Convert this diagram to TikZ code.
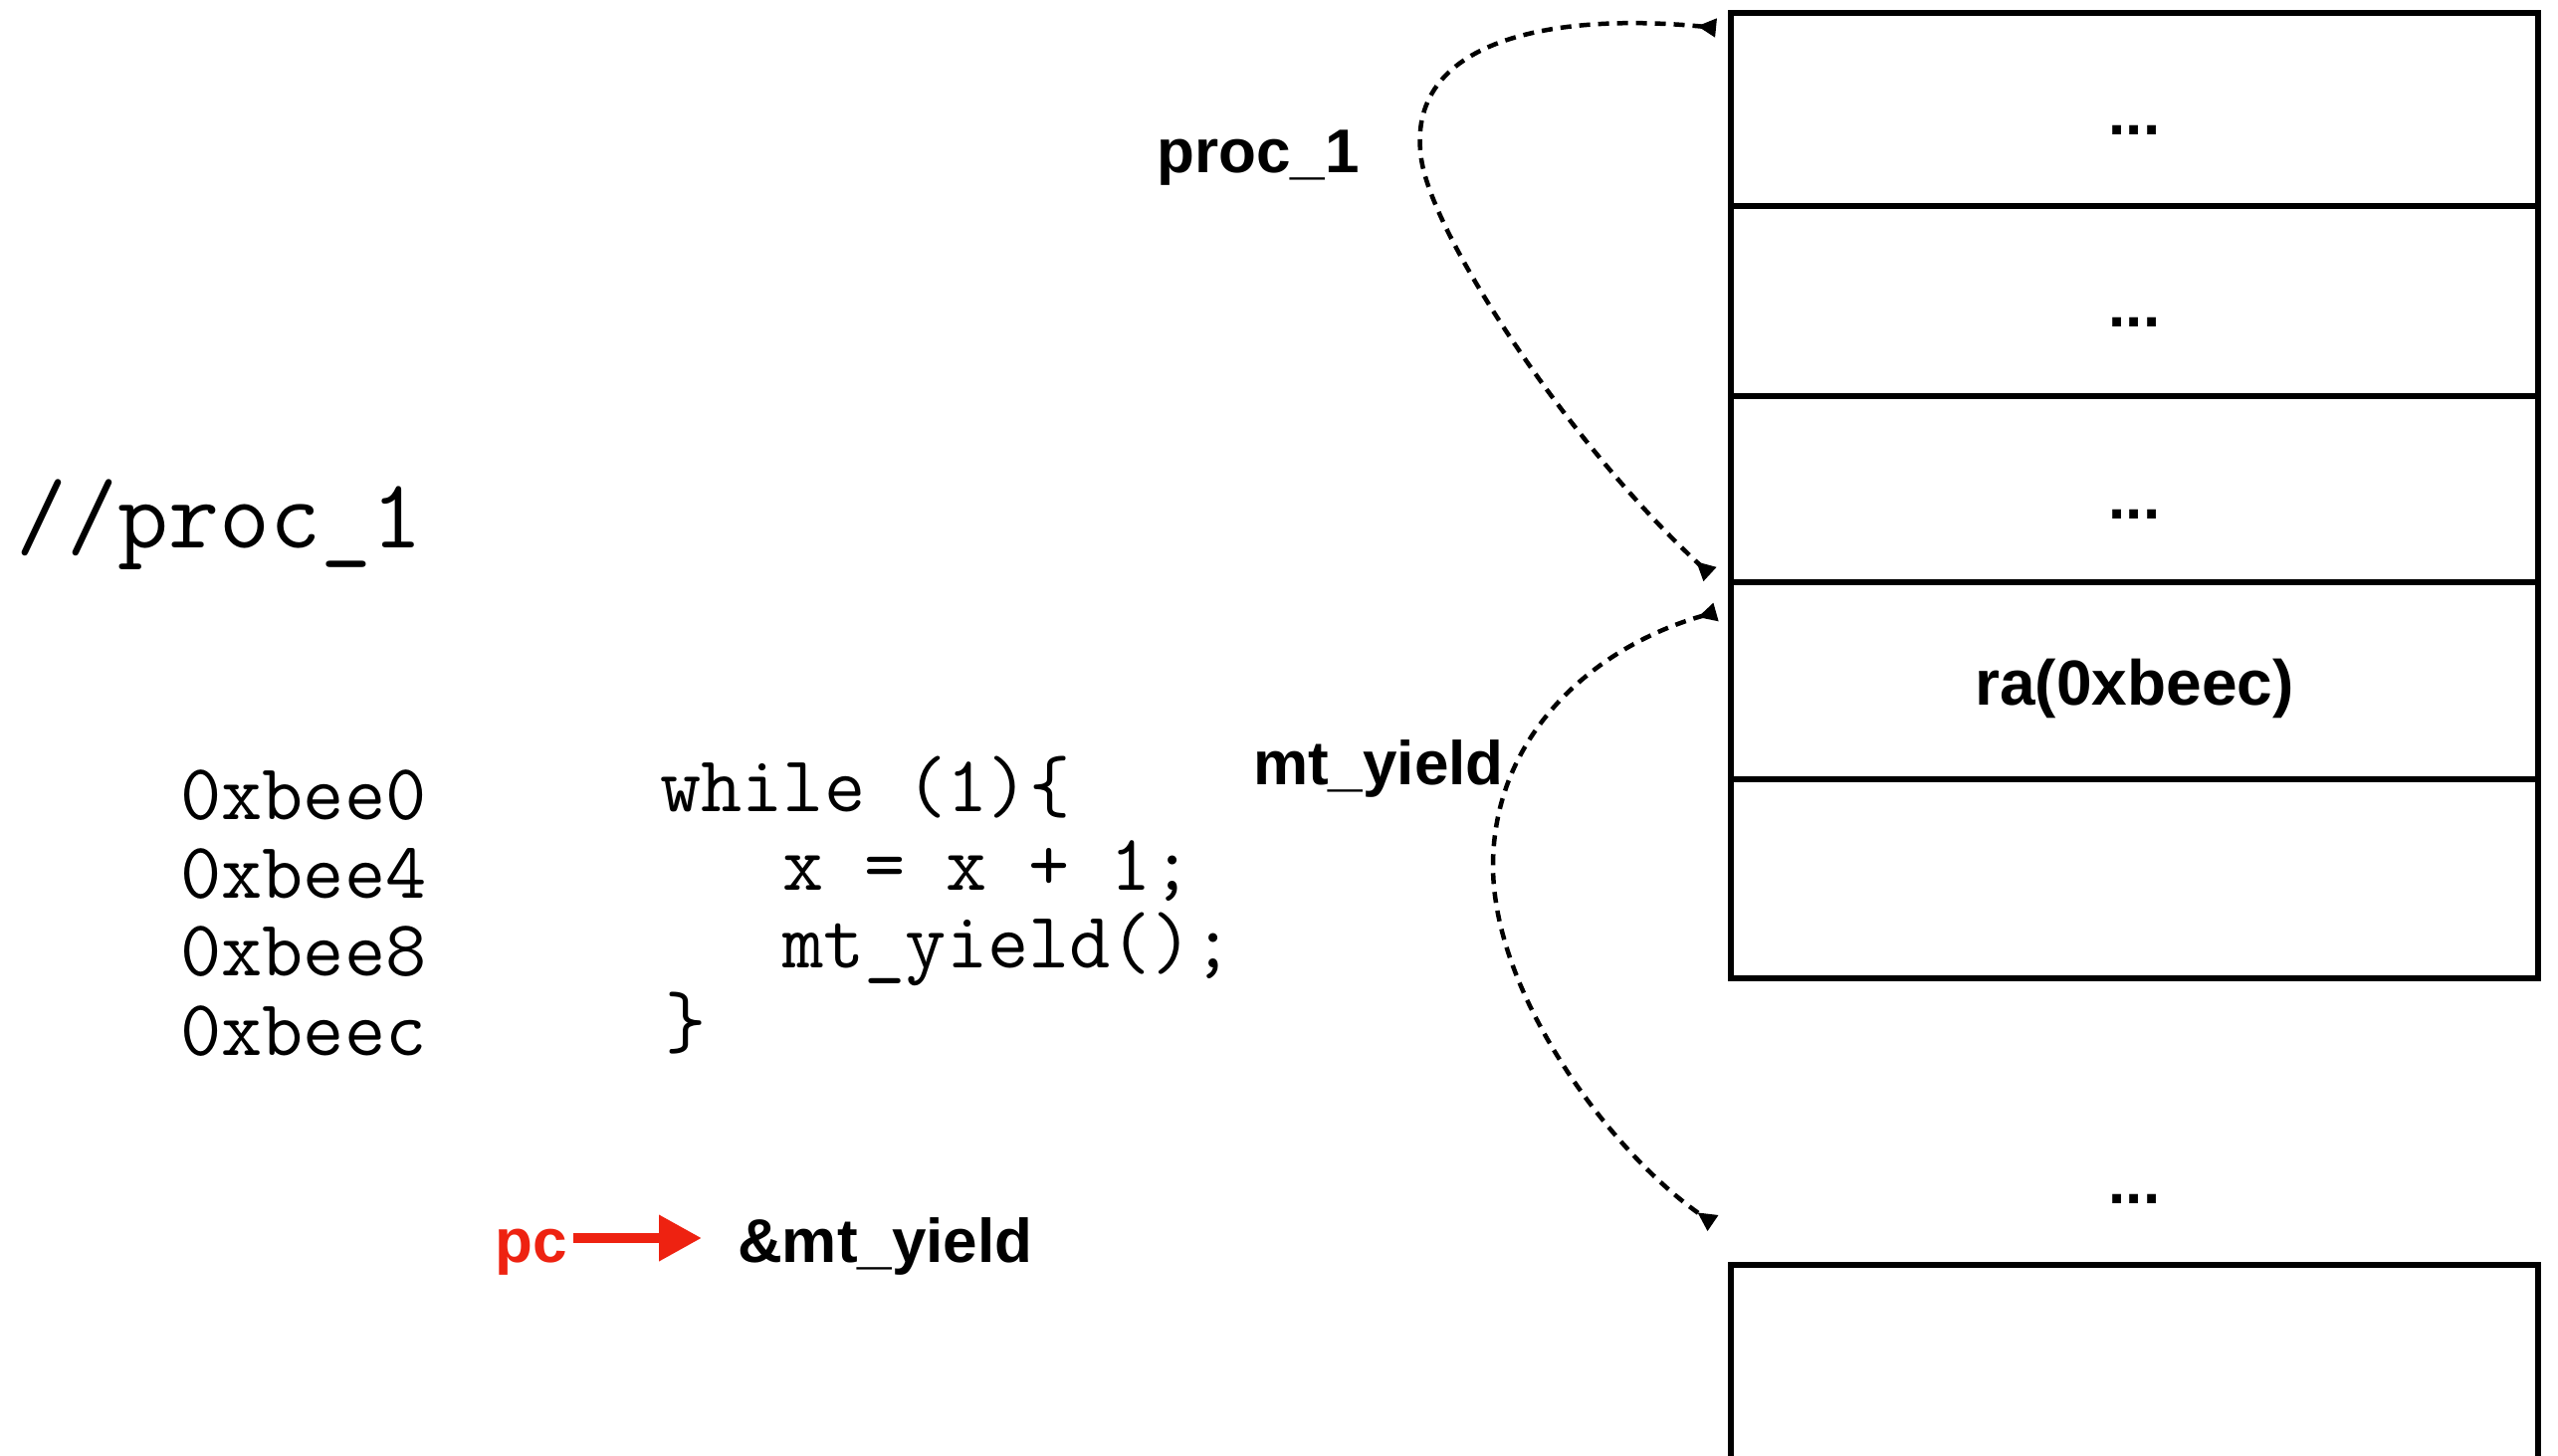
\documentclass[tikz,border=0pt]{standalone}
\usepackage{fontspec}
\newfontfamily\labfont{Liberation Sans}
\usetikzlibrary{arrows.meta,calc}
\definecolor{pcred}{RGB}{238,34,17}
\begin{document}
\begin{tikzpicture}[x=1pt,y=-1pt,
  cell/.style={draw, line width=5.5pt, minimum width=811pt, inner sep=0pt, outer sep=0pt},
  lab/.style={font=\labfont\bfseries\fontsize{62}{70}\selectfont, inner sep=0pt},
  code/.style={font=\ttfamily\fontsize{80}{86}\selectfont, inner sep=0pt, anchor=base west},
  link/.style={line width=4.5pt, dash pattern=on 11pt off 8pt,
    arrows={Triangle[reversed,length=19pt,width=18pt]-Triangle[reversed,length=19pt,width=18pt]}}]
\useasboundingbox[fill=white] (0,0) rectangle (2570,1463);

% stack cells
\node[cell, minimum height=194pt] (c1) at (2144.5,110) {};
\node[cell, minimum height=191pt] (c2) at (2144.5,302.5) {};
\node[cell, minimum height=187pt] (c3) at (2144.5,491.5) {};
\node[cell, minimum height=198pt] (c4) at (2144.5,684) {};
\node[cell, minimum height=200pt] (c5) at (2144.5,883) {};
\node[cell, minimum height=429pt] (c6) at (2144.5,1485.5) {};

% cell texts
\node[lab, anchor=base] (d1) at (2144.5,136) {...};
\node[lab, anchor=base] (d2) at (2144.5,329) {...};
\node[lab, anchor=base] (d3) at (2144.5,521) {...};
\node[lab, anchor=base, font=\labfont\bfseries\fontsize{64}{70}\selectfont] (ra) at (2144.5,708) {ra(0xbeec)};
\node[lab, anchor=base] (d4) at (2144.5,1209) {...};

% code
\node[code, font=\ttfamily\fontsize{99}{105}\selectfont] (cmt) at (16,550) {//proc\_1};
\node[code] (ad0) at (181,823) {0xbee0};
\node[code] (ad4) at (181,902) {0xbee4};
\node[code] (ad8) at (181,980) {0xbee8};
\node[code] (adc) at (181,1060) {0xbeec};
\node[code] (l1) at (663,815) {while (1)\{};
\node[code] (l2) at (786,894) {x = x + 1;};
\node[code] (l3) at (786,972) {mt\_yield();};
\node[code] (l4) at (668,1052) {\}};

% pc
\node[lab, text=pcred, anchor=base west] (pc) at (497,1268) {pc};
\node[lab, anchor=base west] (amp) at (741,1268) {\&mt\_yield};
\draw[pcred, line width=10pt, -{Triangle[length=43pt,width=44pt]}]
  ($(pc.base east)+(6,-24)$) -- ($(amp.base west)+(-36,-24)$);

% labels
\node[lab, anchor=base west] (lp) at (1162,174) {proc\_1};
\node[lab, anchor=base west] (lm) at (1259,788) {mt\_yield};

% connectors
\coordinate (a1s) at ($(c1.north west)+(-15,15)$);
\coordinate (a1e) at ($(c4.north west)+(-21,-8)$);
\coordinate (a2s) at ($(c4.north west)+(-15,30)$);
\coordinate (a2e) at ($(c6.north west)+(-18,-42)$);
\draw[link] (a1s) .. controls (1560,12) and (1410,40) .. (1428,160)
  .. controls (1440,240) and (1580,450) .. (a1e);
\draw[link] (a2s) .. controls (1600,650) and (1500,740) .. (1500,870)
  .. controls (1500,1000) and (1620,1160) .. (a2e);
\end{tikzpicture}
\end{document}
